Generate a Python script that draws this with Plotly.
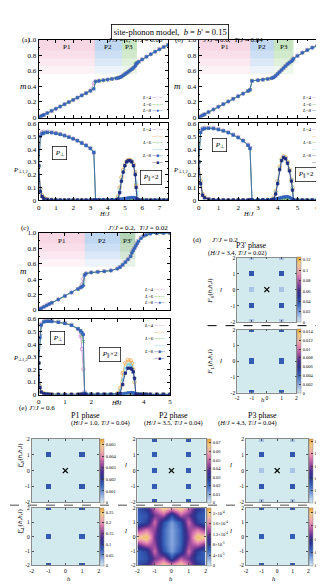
import numpy as np
import plotly.graph_objects as go

W, HGT = 324, 584
FONT = "Liberation Serif"

# ---------------- panel (a): J'/J=1, T/J=0.06 ----------------
H_a = [0, 0.1, 0.2, 0.3, 0.5, 0.75, 1.0, 1.25, 1.5, 1.75,
       2.0, 2.25, 2.5, 2.75, 3.0, 3.2, 3.3, 3.5, 3.75, 4.0,
       4.25, 4.5, 4.6, 4.7, 4.8, 4.9, 5.0, 5.1, 5.2, 5.3,
       5.4, 5.5, 5.6, 5.65, 5.7, 5.8, 6.0, 6.25, 6.5, 6.75,
       7.0, 7.25, 7.5]
m_a_L4 = [0, 0.012, 0.023, 0.034, 0.057, 0.085, 0.113, 0.141, 0.17, 0.198,
          0.226, 0.255, 0.284, 0.313, 0.345, 0.44, 0.465, 0.472, 0.48, 0.488,
          0.496, 0.504, 0.509, 0.516, 0.526, 0.541, 0.557, 0.573, 0.589, 0.605,
          0.621, 0.64, 0.665, 0.688, 0.70, 0.716, 0.746, 0.781, 0.813, 0.846,
          0.877, 0.907, 0.935]
m_a_L6 = [0, 0.012, 0.023, 0.034, 0.057, 0.085, 0.113, 0.141, 0.17, 0.198,
          0.226, 0.255, 0.284, 0.312, 0.342, 0.37, 0.462, 0.47, 0.478, 0.486,
          0.495, 0.503, 0.508, 0.515, 0.525, 0.54, 0.556, 0.572, 0.588, 0.604,
          0.62, 0.638, 0.68, 0.69, 0.70, 0.715, 0.745, 0.78, 0.812, 0.845,
          0.876, 0.906, 0.932]
m_a_L8 = [0, 0.012, 0.023, 0.034, 0.057, 0.085, 0.113, 0.141, 0.17, 0.198,
          0.226, 0.255, 0.284, 0.312, 0.342, 0.368, 0.462, 0.47, 0.478, 0.486,
          0.495, 0.503, 0.508, 0.515, 0.525, 0.54, 0.556, 0.572, 0.588, 0.604,
          0.62, 0.638, 0.66, 0.685, 0.70, 0.715, 0.745, 0.78, 0.812, 0.845,
          0.875, 0.905, 0.93]
Pperp_a_L4 = [0.27, 0.51, 0.53, 0.535, 0.535, 0.532, 0.525, 0.517, 0.507, 0.495,
              0.482, 0.467, 0.449, 0.43, 0.407, 0.37, 0.003, 0.003, 0.003, 0.003,
              0.003, 0.003, 0.003, 0.003, 0.003, 0.003, 0.003, 0.003, 0.003, 0.003,
              0.003, 0.003, 0.003, 0.003, 0.003, 0.002, 0.002, 0.002, 0.002, 0.002,
              0.002, 0.002, 0.002]
Pperp_a_L6 = [0.27, 0.50, 0.52, 0.527, 0.531, 0.529, 0.523, 0.516, 0.506, 0.494,
              0.481, 0.466, 0.448, 0.429, 0.406, 0.376, 0.004, 0.003, 0.003, 0.003,
              0.003, 0.003, 0.004, 0.005, 0.006, 0.007, 0.008, 0.009, 0.01, 0.011,
              0.012, 0.012, 0.01, 0.006, 0.003, 0.002, 0.002, 0.002, 0.002, 0.002,
              0.002, 0.002, 0.002]
Pperp_a_L8 = [0.27, 0.50, 0.52, 0.525, 0.53, 0.528, 0.522, 0.515, 0.505, 0.493,
              0.48, 0.465, 0.447, 0.428, 0.405, 0.375, 0.004, 0.003, 0.003, 0.003,
              0.003, 0.004, 0.006, 0.008, 0.01, 0.012, 0.014, 0.016, 0.018, 0.02,
              0.022, 0.022, 0.02, 0.012, 0.004, 0.002, 0.002, 0.002, 0.002, 0.002,
              0.002, 0.002, 0.002]
Ppar_a_L4 = [0.27, 0.09, 0.04, 0.02, 0.01, 0.006, 0.004, 0.003, 0.003, 0.003,
             0.003, 0.003, 0.003, 0.003, 0.003, 0.003, 0.003, 0.003, 0.003, 0.003,
             0.003, 0.006, 0.03, 0.10, 0.18, 0.24, 0.28, 0.305, 0.315, 0.315,
             0.305, 0.28, 0.22, 0.12, 0.01, 0.003, 0.002, 0.002, 0.002, 0.002,
             0.002, 0.002, 0.002]
Ppar_a_L6 = [0.27, 0.08, 0.035, 0.018, 0.009, 0.005, 0.004, 0.003, 0.003, 0.003,
             0.003, 0.003, 0.003, 0.003, 0.003, 0.003, 0.003, 0.003, 0.003, 0.003,
             0.003, 0.005, 0.02, 0.08, 0.16, 0.23, 0.275, 0.30, 0.31, 0.31,
             0.30, 0.275, 0.21, 0.14, 0.06, 0.003, 0.002, 0.002, 0.002, 0.002,
             0.002, 0.002, 0.002]
Ppar_a_L8 = [0.27, 0.07, 0.03, 0.015, 0.008, 0.005, 0.004, 0.003, 0.003, 0.003,
             0.003, 0.003, 0.003, 0.003, 0.003, 0.003, 0.003, 0.003, 0.003, 0.003,
             0.003, 0.004, 0.01, 0.06, 0.15, 0.22, 0.27, 0.30, 0.31, 0.31,
             0.30, 0.27, 0.20, 0.10, 0.01, 0.003, 0.002, 0.002, 0.002, 0.002,
             0.002, 0.002, 0.002]
bounds_a = [0, 3.26, 4.83, 5.7]
phases_a = ["P1", "P2", "P3"]

# ---------------- panel (b): J'/J=0.6, T/J=0.04 ----------------
H_b = [0, 0.1, 0.2, 0.3, 0.5, 0.75, 1.0, 1.25, 1.5, 1.75,
       2.0, 2.25, 2.5, 2.6, 2.7, 3.0, 3.25, 3.5, 3.7, 3.8,
       3.9, 4.0, 4.1, 4.2, 4.3, 4.4, 4.5, 4.6, 4.7, 4.75,
       4.8, 5.0, 5.25, 5.5, 5.75, 6.0, 6.25, 6.5]
m_b_L4 = [0, 0.014, 0.028, 0.042, 0.07, 0.104, 0.138, 0.172, 0.206, 0.24,
          0.274, 0.307, 0.342, 0.36, 0.472, 0.48, 0.487, 0.497, 0.507, 0.518,
          0.538, 0.563, 0.588, 0.613, 0.638, 0.663, 0.688, 0.708, 0.725, 0.74,
          0.758, 0.793, 0.833, 0.868, 0.9, 0.925, 0.945, 0.962]
m_b_L6 = [0, 0.014, 0.028, 0.042, 0.07, 0.104, 0.138, 0.172, 0.206, 0.24,
          0.273, 0.306, 0.34, 0.356, 0.47, 0.478, 0.485, 0.495, 0.505, 0.516,
          0.536, 0.561, 0.586, 0.611, 0.636, 0.661, 0.686, 0.706, 0.722, 0.738,
          0.756, 0.791, 0.831, 0.866, 0.897, 0.922, 0.942, 0.958]
m_b_L8 = [0, 0.014, 0.028, 0.042, 0.07, 0.104, 0.138, 0.172, 0.206, 0.24,
          0.273, 0.306, 0.34, 0.355, 0.47, 0.478, 0.485, 0.495, 0.505, 0.515,
          0.535, 0.56, 0.585, 0.61, 0.635, 0.66, 0.685, 0.705, 0.72, 0.735,
          0.755, 0.79, 0.83, 0.865, 0.895, 0.92, 0.94, 0.955]
Pperp_b_L4 = [0.30, 0.54, 0.562, 0.566, 0.566, 0.564, 0.556, 0.545, 0.531, 0.513,
              0.493, 0.468, 0.435, 0.41, 0.003, 0.003, 0.003, 0.003, 0.003, 0.003,
              0.003, 0.003, 0.003, 0.003, 0.003, 0.003, 0.003, 0.003, 0.003, 0.003,
              0.003, 0.002, 0.002, 0.002, 0.002, 0.002, 0.002, 0.002]
Pperp_b_L6 = [0.30, 0.535, 0.557, 0.562, 0.563, 0.561, 0.553, 0.543, 0.529, 0.511,
              0.491, 0.466, 0.432, 0.407, 0.004, 0.003, 0.003, 0.003, 0.003, 0.004,
              0.006, 0.008, 0.01, 0.012, 0.014, 0.015, 0.015, 0.013, 0.008, 0.005,
              0.003, 0.002, 0.002, 0.002, 0.002, 0.002, 0.002, 0.002]
Pperp_b_L8 = [0.30, 0.53, 0.555, 0.56, 0.562, 0.56, 0.552, 0.542, 0.528, 0.51,
              0.49, 0.465, 0.43, 0.405, 0.004, 0.003, 0.003, 0.003, 0.004, 0.006,
              0.01, 0.014, 0.018, 0.022, 0.026, 0.028, 0.028, 0.024, 0.015, 0.008,
              0.003, 0.002, 0.002, 0.002, 0.002, 0.002, 0.002, 0.002]
Ppar_b_L4 = [0.30, 0.15, 0.05, 0.025, 0.012, 0.006, 0.004, 0.003, 0.003, 0.003,
             0.003, 0.003, 0.003, 0.003, 0.003, 0.003, 0.003, 0.004, 0.006, 0.02,
             0.07, 0.15, 0.26, 0.32, 0.345, 0.335, 0.30, 0.24, 0.16, 0.10,
             0.003, 0.002, 0.002, 0.002, 0.002, 0.002, 0.002, 0.002]
Ppar_b_L6 = [0.30, 0.14, 0.045, 0.022, 0.011, 0.005, 0.004, 0.003, 0.003, 0.003,
             0.003, 0.003, 0.003, 0.003, 0.003, 0.003, 0.003, 0.004, 0.005, 0.015,
             0.06, 0.14, 0.25, 0.315, 0.34, 0.33, 0.295, 0.235, 0.155, 0.10,
             0.003, 0.002, 0.002, 0.002, 0.002, 0.002, 0.002, 0.002]
Ppar_b_L8 = [0.30, 0.13, 0.04, 0.02, 0.01, 0.005, 0.004, 0.003, 0.003, 0.003,
             0.003, 0.003, 0.003, 0.003, 0.003, 0.003, 0.003, 0.004, 0.005, 0.01,
             0.05, 0.13, 0.24, 0.31, 0.335, 0.325, 0.29, 0.23, 0.15, 0.08,
             0.003, 0.002, 0.002, 0.002, 0.002, 0.002, 0.002, 0.002]
bounds_b = [0, 2.62, 3.8, 4.8]
phases_b = ["P1", "P2", "P3"]

# ---------------- panel (c): J'/J=0.2, T/J=0.02 ----------------
H_c = [0, 0.05, 0.1, 0.2, 0.3, 0.4, 0.5, 0.75, 1.0, 1.25,
       1.5, 1.6, 1.65, 1.7, 1.75, 1.8, 2.0, 2.25, 2.5, 2.75,
       3.0, 3.1, 3.2, 3.3, 3.4, 3.5, 3.55, 3.6, 3.65, 3.7,
       3.75, 3.8, 3.9, 4.0, 4.1, 4.25, 4.5, 4.75, 5.0]
m_c_L4 = [0, 0.01, 0.02, 0.04, 0.058, 0.075, 0.092, 0.135, 0.18, 0.226,
          0.272, 0.295, 0.33, 0.40, 0.46, 0.475, 0.488, 0.496, 0.503, 0.513,
          0.538, 0.558, 0.588, 0.623, 0.658, 0.70, 0.75, 0.78, 0.81, 0.84,
          0.87, 0.90, 0.94, 0.968, 0.982, 0.993, 0.997, 0.999, 1.0]
m_c_L6 = [0, 0.01, 0.02, 0.04, 0.058, 0.075, 0.092, 0.135, 0.18, 0.225,
          0.27, 0.29, 0.305, 0.33, 0.455, 0.472, 0.486, 0.494, 0.501, 0.511,
          0.536, 0.556, 0.586, 0.621, 0.656, 0.697, 0.745, 0.775, 0.805, 0.835,
          0.865, 0.895, 0.935, 0.963, 0.978, 0.991, 0.996, 0.998, 1.0]
m_c_L8 = [0, 0.01, 0.02, 0.04, 0.058, 0.075, 0.092, 0.135, 0.18, 0.225,
          0.27, 0.29, 0.30, 0.315, 0.45, 0.47, 0.485, 0.493, 0.5, 0.51,
          0.535, 0.555, 0.585, 0.62, 0.655, 0.695, 0.74, 0.77, 0.80, 0.83,
          0.86, 0.89, 0.93, 0.96, 0.975, 0.99, 0.995, 0.998, 1.0]
Pperp_c_L4 = [0.25, 0.47, 0.56, 0.58, 0.585, 0.585, 0.583, 0.577, 0.567, 0.552,
              0.52, 0.46, 0.36, 0.20, 0.02, 0.003, 0.003, 0.003, 0.003, 0.003,
              0.003, 0.003, 0.003, 0.003, 0.003, 0.003, 0.003, 0.003, 0.003, 0.003,
              0.002, 0.002, 0.002, 0.002, 0.002, 0.002, 0.002, 0.002, 0.002]
Pperp_c_L6 = [0.25, 0.46, 0.555, 0.577, 0.582, 0.582, 0.58, 0.574, 0.564, 0.55,
              0.52, 0.50, 0.47, 0.42, 0.01, 0.003, 0.003, 0.003, 0.003, 0.003,
              0.003, 0.004, 0.005, 0.008, 0.01, 0.011, 0.011, 0.01, 0.007, 0.003,
              0.002, 0.002, 0.002, 0.002, 0.002, 0.002, 0.002, 0.002, 0.002]
Pperp_c_L8 = [0.25, 0.45, 0.55, 0.575, 0.58, 0.58, 0.578, 0.572, 0.562, 0.548,
              0.52, 0.505, 0.49, 0.475, 0.01, 0.003, 0.003, 0.003, 0.003, 0.003,
              0.003, 0.004, 0.006, 0.01, 0.014, 0.016, 0.016, 0.014, 0.01, 0.004,
              0.002, 0.002, 0.002, 0.002, 0.002, 0.002, 0.002, 0.002, 0.002]
Ppar_c_L4 = [0.25, 0.065, 0.025, 0.01, 0.006, 0.004, 0.003, 0.003, 0.003, 0.003,
             0.003, 0.003, 0.003, 0.003, 0.003, 0.003, 0.003, 0.003, 0.003, 0.003,
             0.01, 0.05, 0.17, 0.25, 0.275, 0.27, 0.25, 0.20, 0.10, 0.003,
             0.002, 0.002, 0.002, 0.002, 0.002, 0.002, 0.002, 0.002, 0.002]
Ppar_c_L6 = [0.25, 0.06, 0.022, 0.009, 0.005, 0.004, 0.003, 0.003, 0.003, 0.003,
             0.003, 0.003, 0.003, 0.003, 0.003, 0.003, 0.003, 0.003, 0.003, 0.003,
             0.006, 0.03, 0.12, 0.21, 0.24, 0.24, 0.22, 0.18, 0.12, 0.003,
             0.002, 0.002, 0.002, 0.002, 0.002, 0.002, 0.002, 0.002, 0.002]
Ppar_c_L8 = [0.25, 0.055, 0.02, 0.008, 0.005, 0.004, 0.003, 0.003, 0.003, 0.003,
             0.003, 0.003, 0.003, 0.003, 0.003, 0.003, 0.003, 0.003, 0.003, 0.003,
             0.004, 0.01, 0.08, 0.17, 0.21, 0.21, 0.20, 0.18, 0.13, 0.003,
             0.002, 0.002, 0.002, 0.002, 0.002, 0.002, 0.002, 0.002, 0.002]
bounds_c = [0, 1.76, 3.1, 3.68]
phases_c = ["P1", "P2", "P3'"]

# ---------------- structure-factor maps (peak lists) ----------------
e1_fs_h = [-1, 1, -1, 1]
e1_fs_l = [1, 1, -1, -1]
e1_fs_I = [0.0017, 0.0017, 0.0017, 0.0017]
e1_fl_h = [-1, 1, -1, 1, -1, 1]
e1_fl_l = [2, 2, 0, 0, -2, -2]
e1_fl_I = [0.08, 0.08, 0.08, 0.08, 0.08, 0.08]
e2_fs_h = [-1, 1, -1, 1, -1, 1, -1, 1, -1, 1]
e2_fs_l = [2, 2, 1, 1, 0, 0, -1, -1, -2, -2]
e2_fs_I = [0.022, 0.022, 0.022, 0.022, 0.022, 0.022, 0.022, 0.022, 0.022, 0.022]
e3_fs_h = [-1, 1, -1, 1, -1, 1, -1, 1, -1, 1]
e3_fs_l = [2, 2, 1, 1, 0, 0, -1, -1, -2, -2]
e3_fs_I = [0.009, 0.009, 0.032, 0.032, 0.009, 0.009, 0.032, 0.032, 0.009, 0.009]
e3_fl_h = [-1, 1, -1, 1, -1, 1]
e3_fl_l = [2, 2, 0, 0, -2, -2]
e3_fl_I = [0.005, 0.005, 0.005, 0.005, 0.005, 0.005]
d_fs_h = [-1, 1, -1, 1, -1, 1, -1, 1, -1, 1]
d_fs_l = [2, 2, 1, 1, 0, 0, -1, -1, -2, -2]
d_fs_I = [0.011, 0.011, 0.038, 0.038, 0.011, 0.011, 0.038, 0.038, 0.011, 0.011]
d_fl_h = [-1, 1, -1, 1, -1, 1]
d_fl_l = [2, 2, 0, 0, -2, -2]
d_fl_I = [0.0042, 0.0042, 0.0042, 0.0042, 0.0042, 0.0042]
# P2 phase F_L: diffuse map on a coarse (h,l) grid, units of 1e-5
p2_grid = [-2, -1.5, -1, -0.5, 0, 0.5, 1, 1.5, 2]
p2_fl = [
    [7, 9, 15, 20, 17, 20, 15, 9, 7],
    [6, 7, 12, 14, 7, 14, 12, 7, 6],
    [6, 8, 15, 7, 3.5, 7, 15, 8, 6],
    [12, 15, 13, 6, 3, 6, 13, 15, 12],
    [19, 21, 12, 6, 3, 6, 12, 21, 19],
    [12, 15, 13, 6, 3, 6, 13, 15, 12],
    [6, 8, 15, 7, 3.5, 7, 15, 8, 6],
    [6, 7, 12, 14, 7, 14, 12, 7, 6],
    [7, 9, 15, 20, 17, 20, 15, 9, 7],
]
cross_h = [0]
cross_l = [0]

# ---------------- styling ----------------
C4, C4b = "#c98ad8", "#f2a54a"
C6, C6b = "#5cba46", "#5fcbe0"
C8, C8b = "#3463bd", "#1e2a7e"
CS = [[0.0, "#d2eaed"], [0.05, "#c0d6f0"], [0.14, "#86a6de"], [0.28, "#3560b8"],
      [0.40, "#2a3590"], [0.50, "#4b2f8e"], [0.60, "#9a4a9e"], [0.70, "#dc78b0"],
      [0.80, "#f0aaa8"], [0.90, "#f3cc86"], [1.0, "#f5a028"]]


def fx(p):
    return p / W


def fy(p):
    return 1 - p / HGT


fig = go.Figure()
layout = {}
annotations = []
shapes = []

LINE_AX = dict(showgrid=False, zeroline=False, showline=True, linecolor="black", linewidth=0.8,
               mirror="allticks", ticks="inside", ticklen=3, tickwidth=0.6, tickcolor="black",
               tickfont=dict(family=FONT, size=7, color="black"))
HEAT_AX = dict(showgrid=False, zeroline=False, showline=True, linecolor="#8a8a8a", linewidth=0.8,
               mirror="allticks", ticks="inside", ticklen=2, tickwidth=0.6, tickcolor="#555",
               tickfont=dict(family=FONT, size=5.5, color="black"),
               tickvals=[-2, -1, 0, 1, 2], ticktext=["-2", "-1", "0", "1", "2"])


def add_axes(i, xpx, ypx, xkw, ykw):
    xs = "xaxis" if i == 1 else "xaxis%d" % i
    ys = "yaxis" if i == 1 else "yaxis%d" % i
    xa = "x" if i == 1 else "x%d" % i
    ya = "y" if i == 1 else "y%d" % i
    d = dict(domain=[fx(xpx[0]), fx(xpx[1])], anchor=ya)
    d.update(xkw)
    layout[xs] = d
    d = dict(domain=[fy(ypx[1]), fy(ypx[0])], anchor=xa)
    d.update(ykw)
    layout[ys] = d
    return xa, ya


def ann(x, y, text, size=7, xref="paper", yref="paper", **kw):
    a = dict(x=x, y=y, xref=xref, yref=yref, text=text, showarrow=False,
             font=dict(family=FONT, size=size, color="black"))
    a.update(kw)
    annotations.append(a)


def sc(x, y, color, symbol, size, xa, ya):
    return go.Scatter(x=x, y=y, mode="lines+markers", xaxis=xa, yaxis=ya,
                      line=dict(color=color, width=0.8),
                      marker=dict(symbol=symbol, size=size, color=color,
                                  line=dict(color=color, width=0.8)),
                      showlegend=False, hoverinfo="skip")


PH_COL = {"P1": "#f2a0c4", "P2": "#6fa3df", "P3": "#78c070", "P3'": "#4f9a58"}


def line_panel(idx, xpx, ypm, ypp, xmax, xticks, H, m4, m6, m8, pp4, pp6, pp8, pa4, pa6, pa8,
               bounds, phases, tag, tag_x, title, title_x, title_y, pbox1, pbox2, mlab_x, hj_x):
    xkw_m = dict(LINE_AX, range=[0, xmax], tickvals=xticks, showticklabels=False,
                 minor=dict(ticks="inside", ticklen=1.5, tickcolor="black", tickwidth=0.5, dtick=0.5))
    ykw_m = dict(LINE_AX, range=[0, 1.0], tickvals=[0, 0.2, 0.4, 0.6, 0.8, 1.0],
                 ticktext=["0", "0.2", "0.4", "0.6", "0.8", "1.0"],
                 minor=dict(ticks="inside", ticklen=1.5, tickcolor="black", tickwidth=0.5, dtick=0.1))
    xa, ya = add_axes(idx, xpx, ypm, xkw_m, ykw_m)
    xkw_p = dict(LINE_AX, range=[0, xmax], tickvals=xticks, ticktext=[str(t) for t in xticks],
                 minor=dict(ticks="inside", ticklen=1.5, tickcolor="black", tickwidth=0.5, dtick=0.5))
    ykw_p = dict(LINE_AX, range=[0, 0.6], tickvals=[0, 0.1, 0.2, 0.3, 0.4, 0.5, 0.6],
                 ticktext=["0", "0.1", "0.2", "0.3", "0.4", "0.5", "0.6"],
                 minor=dict(ticks="inside", ticklen=1.5, tickcolor="black", tickwidth=0.5, dtick=0.05))
    xb, yb = add_axes(idx + 1, xpx, ypp, xkw_p, ykw_p)

    # phase shading (fading downward)
    for k in range(len(phases)):
        for y0 in [0.56, 0.66, 0.76, 0.86]:
            shapes.append(dict(type="rect", xref=xa, yref=ya + " domain", x0=bounds[k], x1=bounds[k + 1],
                               y0=y0, y1=1, fillcolor=PH_COL[phases[k]], opacity=0.13,
                               line=dict(width=0), layer="below"))
        ann((bounds[k] + bounds[k + 1]) / 2, 0.9, phases[k], size=7, xref=xa, yref=ya)

    fig.add_trace(sc(H, m4, C4, "circle-open", 3.5, xa, ya))
    fig.add_trace(sc(H, m6, C6, "x-thin", 3.5, xa, ya))
    fig.add_trace(sc(H, m8, C8, "circle", 2.6, xa, ya))

    fig.add_trace(sc(H, pp4, C4, "circle-open", 3.5, xb, yb))
    fig.add_trace(sc(H, pa4, C4b, "circle-open", 3.5, xb, yb))
    fig.add_trace(sc(H, pp6, C6, "x-thin", 3.5, xb, yb))
    fig.add_trace(sc(H, pa6, C6b, "x-thin", 3.5, xb, yb))
    fig.add_trace(sc(H, pp8, C8, "square", 2.4, xb, yb))
    fig.add_trace(sc(H, pa8, C8b, "square", 2.4, xb, yb))

    # labels
    ann(fx(tag_x), fy(title_y), tag, size=7)
    ann(fx(title_x), fy(title_y), title, size=7)
    ann(fx(mlab_x), fy((ypm[0] + ypm[1]) / 2), "<i>m</i>", size=9)
    ann(fx(mlab_x - 7), fy((ypp[0] + ypp[1]) / 2 + 2), "<i>P</i><sub>⊥1,2</sub>", size=6.5,
        xanchor="left")
    ann(fx(hj_x), fy(ypp[1] + 13), "<i>H</i>/<i>J</i>", size=6.5)
    ann(pbox1[0], pbox1[1], "<i>P</i><sub>⊥</sub>", size=7, xref=xb, yref=yb,
        bordercolor="black", borderwidth=0.7, borderpad=2, bgcolor="white")
    ann(pbox2[0], pbox2[1], "<i>P</i><sub>∥</sub>×2", size=7, xref=xb, yref=yb,
        bordercolor="black", borderwidth=0.7, borderpad=2, bgcolor="white")
    # legends
    leg_m = ("<i>L</i>=4 <span style='color:%s'>─○─</span><br><i>L</i>=6 <span style='color:%s'>─×─</span>"
             "<br><i>L</i>=8 <span style='color:%s'>─●─</span>" % (C4, C6, C8))
    ann(fx(xpx[1] - 3), fy(ypm[1] - 3), leg_m, size=5, xanchor="right", yanchor="bottom", align="right")
    leg_p = ("<i>L</i>=4 <span style='color:%s'>─○─</span><br><span style='color:%s'>─○─</span>"
             "<br><i>L</i>=6 <span style='color:%s'>─×─</span><br><span style='color:%s'>─×─</span>"
             "<br><i>L</i>=8 <span style='color:%s'>─■─</span><br><span style='color:%s'>─■─</span>"
             % (C4, C4b, C6, C6b, C8, C8b))
    ann(fx(xpx[1] - 3), fy(ypp[0] + 2), leg_p, size=5, xanchor="right", yanchor="top", align="right")


line_panel(1, [29, 160], [28, 107], [113, 191], 7.5, [0, 1, 2, 3, 4, 5, 6, 7], H_a,
           m_a_L4, m_a_L6, m_a_L8, Pperp_a_L4, Pperp_a_L6, Pperp_a_L8, Ppar_a_L4, Ppar_a_L6, Ppar_a_L8,
           bounds_a, phases_a, "(a)", 10, "<i>J'</i>/<i>J</i> = 1,  <i>T</i>/<i>J</i> = 0.06", 97, 22,
           (1.2, 0.37), (6.5, 0.18), 8, 88)
line_panel(3, [191, 322], [28, 107], [113, 191], 6.55, [0, 1, 2, 3, 4, 5, 6], H_b,
           m_b_L4, m_b_L6, m_b_L8, Pperp_b_L4, Pperp_b_L6, Pperp_b_L8, Ppar_b_L4, Ppar_b_L6, Ppar_b_L8,
           bounds_b, phases_b, "(b)", 172, "<i>J'</i>/<i>J</i> = 0.6,  <i>T</i>/<i>J</i> = 0.04", 258, 22,
           (1.05, 0.43), (5.45, 0.2), 170, 250)
line_panel(5, [29, 162], [224, 302], [311, 388], 5.0, [0, 1, 2, 3, 4, 5], H_c,
           m_c_L4, m_c_L6, m_c_L8, Pperp_c_L4, Pperp_c_L6, Pperp_c_L8, Ppar_c_L4, Ppar_c_L6, Ppar_c_L8,
           bounds_c, phases_c, "(c)", 9, "<i>J'</i>/<i>J</i> = 0.2,  <i>T</i>/<i>J</i> = 0.02", 97, 219,
           (0.7, 0.45), (2.7, 0.32), 8, 100)

# ---------------- heatmaps ----------------
GRID = np.linspace(-2, 2, 13)


def spot_grid(hs, ls, vals):
    z = np.zeros((len(GRID), len(GRID)))
    for h, l, v in zip(hs, ls, vals):
        i = int(np.argmin(np.abs(GRID - l)))
        j = int(np.argmin(np.abs(GRID - h)))
        z[i, j] = v
    return z


def heat_panel(idx, xpx, ypx, x, y, z, zmax, tv, tt, show_x, cross, zsmooth=False):
    xkw = dict(HEAT_AX, range=[-2, 2], showticklabels=show_x)
    ykw = dict(HEAT_AX, range=[-2, 2])
    xa, ya = add_axes(idx, xpx, ypx, xkw, ykw)
    cb = dict(x=fx(xpx[1] + 1), xanchor="left", y=fy((ypx[0] + ypx[1]) / 2), yanchor="middle",
              len=ypx[1] - ypx[0], lenmode="pixels", thickness=3.5, thicknessmode="pixels",
              xpad=0, ypad=0, outlinewidth=0.5, outlinecolor="#888", tickvals=tv, ticktext=tt,
              ticks="inside", ticklen=2, tickcolor="#333",
              tickfont=dict(family=FONT, size=4.5, color="black"))
    fig.add_trace(go.Heatmap(x=x, y=y, z=z, zmin=0, zmax=zmax, colorscale=CS, colorbar=cb,
                             xaxis=xa, yaxis=ya, zsmooth=("best" if zsmooth else False),
                             hoverinfo="skip"))
    if cross:
        fig.add_trace(go.Scatter(x=cross_h, y=cross_l, mode="markers", xaxis=xa, yaxis=ya,
                                 marker=dict(symbol="x-thin", size=5, color="black",
                                             line=dict(color="black", width=1.3)),
                                 showlegend=False, hoverinfo="skip"))
    return xa, ya


TOP_E = [433, 497]
BOT_E = [503, 561]

# (d)
heat_panel(7, [230, 290], [249, 314], GRID, GRID, spot_grid(d_fs_h, d_fs_l, d_fs_I), 0.125,
           [0, 0.02, 0.04, 0.06, 0.08, 0.1, 0.12], ["0", "0.02", "0.04", "0.06", "0.08", "0.1", "0.12"],
           False, True)
heat_panel(8, [230, 290], [322, 386], GRID, GRID, spot_grid(d_fl_h, d_fl_l, d_fl_I), 0.0145,
           [0, 0.002, 0.004, 0.006, 0.008, 0.01, 0.012, 0.014],
           ["0", "0.002", "0.004", "0.006", "0.008", "0.01", "0.012", "0.014"], True, False)
# (e) P1
heat_panel(9, [22, 90], TOP_E, GRID, GRID, spot_grid(e1_fs_h, e1_fs_l, e1_fs_I), 0.0055,
           [0, 0.001, 0.002, 0.003, 0.004, 0.005], ["0", "0.001", "0.002", "0.003", "0.004", "0.005"],
           False, True)
heat_panel(10, [22, 90], BOT_E, GRID, GRID, spot_grid(e1_fl_h, e1_fl_l, e1_fl_I), 0.27,
           [0, 0.05, 0.1, 0.15, 0.2, 0.25], ["0", "0.05", "0.1", "0.15", "0.2", "0.25"], True, False)
# (e) P2
heat_panel(11, [129, 198], TOP_E, GRID, GRID, spot_grid(e2_fs_h, e2_fs_l, e2_fs_I), 0.075,
           [0, 0.01, 0.02, 0.03, 0.04, 0.05, 0.06, 0.07],
           ["0", "0.01", "0.02", "0.03", "0.04", "0.05", "0.06", "0.07"], False, True)
heat_panel(12, [129, 198], BOT_E, p2_grid, p2_grid, (np.array(p2_fl) * 1e-5).tolist(), 2.2e-4,
           [0, 4e-5, 8e-5, 1.2e-4, 1.6e-4, 2e-4],
           ["0", "4×10<sup>-5</sup>", "8×10<sup>-5</sup>", "1.2×10<sup>-4</sup>", "1.6×10<sup>-4</sup>",
            "2×10<sup>-4</sup>"], True, False, zsmooth=True)
# (e) P3
heat_panel(13, [239, 302], TOP_E, GRID, GRID, spot_grid(e3_fs_h, e3_fs_l, e3_fs_I), 0.105,
           [0, 0.02, 0.04, 0.06, 0.08, 0.1], ["0", "0.02", "0.04", "0.06", "0.08", "0.1"], False, True)
heat_panel(14, [239, 302], BOT_E, GRID, GRID, spot_grid(e3_fl_h, e3_fl_l, e3_fl_I), 0.0175,
           [0, 0.004, 0.008, 0.012, 0.016], ["0", "0.004", "0.008", "0.012", "0.016"], True, False)

# heatmap texts
ann(fx(190), fy(231), "(d)", size=7)
ann(fx(203), fy(231), "<i>J'</i>/<i>J</i> = 0.2", size=7, xanchor="left")
ann(fx(262), fy(237), "P3' phase", size=8)
ann(fx(262), fy(244), "(<i>H</i>/<i>J</i> = 3.4, <i>T</i>/<i>J</i> = 0.02)", size=6.5)
ann(fx(217), fy(282), "<i>l</i>", size=7)
ann(fx(217), fy(354), "<i>l</i>", size=7)
ann(fx(203), fy(282), "<i>F</i><sub>S</sub>(<i>h</i>,<i>h</i>,<i>l</i>)", size=7, textangle=-90)
ann(fx(203), fy(354), "<i>F</i><sub>L</sub>(<i>h</i>,<i>h</i>,<i>l</i>)", size=7, textangle=-90)
ann(fx(260), fy(399), "<i>h</i>", size=7)

ann(fx(7), fy(407.5), "(e)", size=7)
ann(fx(17), fy(407.5), "<i>J'</i>/<i>J</i> = 0.6", size=7, xanchor="left")
for cx, ph, hv in [(60, "P1", "1.0"), (166, "P2", "3.5"), (272, "P3", "4.3")]:
    ann(fx(cx), fy(415.5), "%s phase" % ph, size=8)
    ann(fx(cx), fy(422.5), "(<i>H</i>/<i>J</i> = %s, <i>T</i>/<i>J</i> = 0.04)" % hv, size=6.5)
for lx, cx in [(10, 56), (117, 163), (227, 270)]:
    ann(fx(lx), fy(465), "<i>l</i>", size=7)
    ann(fx(lx), fy(532), "<i>l</i>", size=7)
    ann(fx(cx), fy(579.5), "<i>h</i>", size=6.5)
ann(fx(4), fy(465), "<i>F</i><sub>S</sub>(<i>h</i>,<i>h</i>,<i>l</i>)", size=7, textangle=-90)
ann(fx(4), fy(532), "<i>F</i><sub>L</sub>(<i>h</i>,<i>h</i>,<i>l</i>)", size=7, textangle=-90)

# dashed separators
shapes.append(dict(type="line", xref="paper", yref="paper", x0=fx(200), x1=1, y0=fy(318), y1=fy(318),
                   line=dict(color="black", width=1, dash="dash")))
shapes.append(dict(type="line", xref="paper", yref="paper", x0=0, x1=1, y0=fy(500), y1=fy(500),
                   line=dict(color="#888", width=1.5, dash="dash")))

# main title box
ann(0.5, fy(12), "site-phonon model,  <i>b</i> = <i>b</i>' = 0.15", size=8.5,
    bordercolor="black", borderwidth=0.8, borderpad=2, bgcolor="white")

layout.update(dict(width=W, height=HGT, margin=dict(l=0, r=0, t=0, b=0),
                   paper_bgcolor="white", plot_bgcolor="white", showlegend=False,
                   font=dict(family=FONT, size=7, color="black"),
                   annotations=annotations, shapes=shapes))
fig.update_layout(**layout)
fig.write_html("out.html")
